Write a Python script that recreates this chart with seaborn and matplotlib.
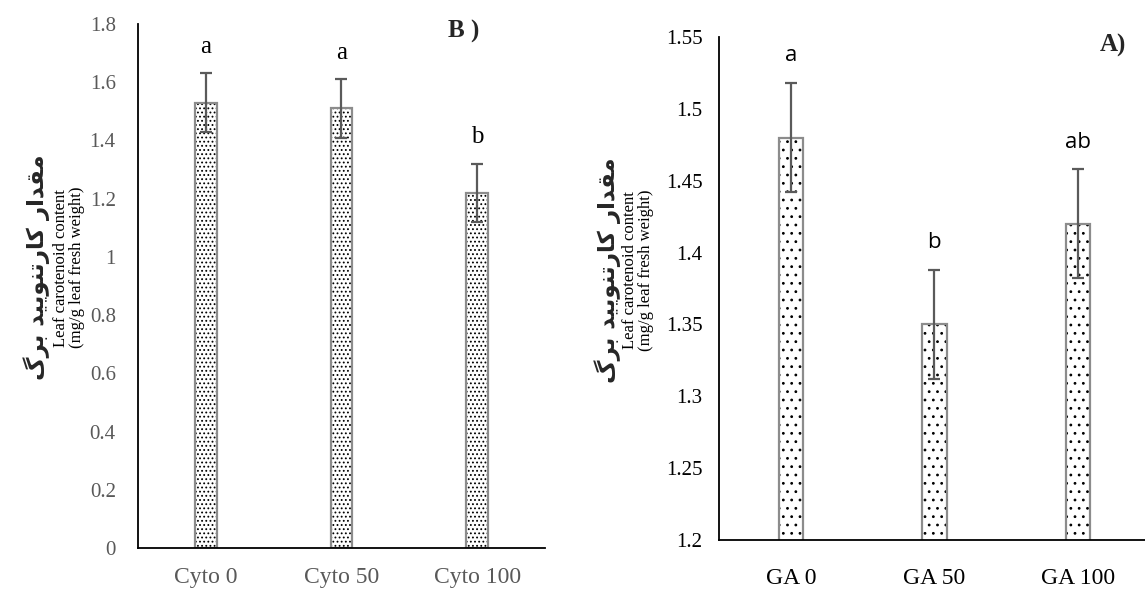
import numpy as np
import pandas as pd
import matplotlib
matplotlib.use("Agg")
import matplotlib.pyplot as plt
import seaborn as sns

# ---- data ----
cyto_labels = ["Cyto 0", "Cyto 50", "Cyto 100"]
cyto_values = [1.53, 1.51, 1.22]
cyto_err = [0.10, 0.10, 0.10]
cyto_letters = ["a", "a", "b"]

ga_labels = ["GA 0", "GA 50", "GA 100"]
ga_values = [1.48, 1.35, 1.42]
ga_err = [0.038, 0.038, 0.038]
ga_letters = ["a", "b", "ab"]

cyto_yticks = [0, 0.2, 0.4, 0.6, 0.8, 1, 1.2, 1.4, 1.6, 1.8]
cyto_ytick_labels = ["0", "0.2", "0.4", "0.6", "0.8", "1", "1.2", "1.4", "1.6", "1.8"]
ga_yticks = [1.2, 1.25, 1.3, 1.35, 1.4, 1.45, 1.5, 1.55]
ga_ytick_labels = ["1.2", "1.25", "1.3", "1.35", "1.4", "1.45", "1.5", "1.55"]

ylabel_fa = "مقدار کارتنویید برگ"
ylabel_en = "Leaf carotenoid content\n(mg/g leaf fresh weight)"

# ---- minimal Persian shaping (presentation forms, right-to-left) ----
FORMS = {
    "م": ("\uFEE1", "\uFEE2", "\uFEE3", "\uFEE4"),
    "ق": ("\uFED5", "\uFED6", "\uFED7", "\uFED8"),
    "ت": ("\uFE95", "\uFE96", "\uFE97", "\uFE98"),
    "ن": ("\uFEE5", "\uFEE6", "\uFEE7", "\uFEE8"),
    "ب": ("\uFE8F", "\uFE90", "\uFE91", "\uFE92"),
    "ک": ("\uFB8E", "\uFB8F", "\uFB90", "\uFB91"),
    "گ": ("\uFB92", "\uFB93", "\uFB94", "\uFB95"),
    "ی": ("\uFBFC", "\uFBFD", "\uFBFE", "\uFBFF"),
    "د": ("\uFEA9", "\uFEAA", "\uFEA9", "\uFEAA"),
    "ا": ("\uFE8D", "\uFE8E", "\uFE8D", "\uFE8E"),
    "ر": ("\uFEAD", "\uFEAE", "\uFEAD", "\uFEAE"),
    "و": ("\uFEED", "\uFEEE", "\uFEED", "\uFEEE"),
}
RIGHT_JOINING = set("دارو")


def shape_rtl(text):
    out = []
    for i, ch in enumerate(text):
        if ch not in FORMS:
            out.append(ch)
            continue
        prev = text[i - 1] if i > 0 else " "
        nxt = text[i + 1] if i + 1 < len(text) else " "
        jp = prev in FORMS and prev not in RIGHT_JOINING
        jn = nxt in FORMS and ch not in RIGHT_JOINING
        iso, fin, ini, med = FORMS[ch]
        if jp and jn:
            out.append(med)
        elif jp:
            out.append(fin)
        elif jn:
            out.append(ini)
        else:
            out.append(iso)
    return "".join(reversed(out))


sns.set_theme(style="white")
plt.rcParams["font.family"] = ["Liberation Serif", "DejaVu Serif"]
plt.rcParams["hatch.linewidth"] = 0.8

fig = plt.figure(figsize=(11.45, 5.92), dpi=100)
ax1 = fig.add_axes([0.1205, 0.0743, 0.3555, 0.8852])
ax2 = fig.add_axes([0.628, 0.0878, 0.376, 0.8497])

BAR_EDGE = "#8c8c8c"
ERR_COLOR = "#5a5a5a"


def draw_panel(ax, labels, values, err, letters, bar_width, hatch, letter_font,
               letter_size, letter_pad):
    df = pd.DataFrame({"treatment": labels, "value": values})
    # dotted fill
    sns.barplot(data=df, x="treatment", y="value", ax=ax, width=bar_width,
                color="white", edgecolor="black", linewidth=0, hatch=hatch,
                errorbar=None)
    # bar outline
    sns.barplot(data=df, x="treatment", y="value", ax=ax, width=bar_width,
                fill=False, edgecolor=BAR_EDGE, linewidth=1.6, errorbar=None)
    pos = np.arange(len(labels))
    ax.errorbar(pos, values, yerr=err, fmt="none", ecolor=ERR_COLOR,
                elinewidth=1.6, capsize=4.5, capthick=1.6, zorder=5)
    for i, (v, e, t) in enumerate(zip(values, err, letters)):
        ax.annotate(t, (i, v + e), xytext=(0, letter_pad), textcoords="offset points",
                    ha="center", va="bottom", fontsize=letter_size,
                    family=letter_font, color="black")
    ax.set_xlabel("")
    ax.set_ylabel("")
    ax.tick_params(axis="both", length=0)
    sns.despine(ax=ax)
    for side in ("left", "bottom"):
        ax.spines[side].set_color("black")
        ax.spines[side].set_linewidth(1.3)


# ---- left panel: cytokinin ----
draw_panel(ax1, cyto_labels, cyto_values, cyto_err, cyto_letters, 0.16, "....",
           ["Liberation Serif"], 18, 11)
ax1.set_ylim(0, 1.8)
ax1.set_xlim(-0.5, 2.5)
ax1.set_yticks(cyto_yticks)
ax1.set_yticklabels(cyto_ytick_labels, fontsize=15, color="#595959")
ax1.set_xticks(range(len(cyto_labels)))
ax1.set_xticklabels(cyto_labels, fontsize=17, color="#595959")
ax1.tick_params(axis="y", pad=16)
ax1.tick_params(axis="x", pad=14)
ax1.text(0.80, 0.985, "B )", transform=ax1.transAxes, fontsize=18,
         fontweight="bold", ha="center", va="center")

# ---- right panel: gibberellin ----
draw_panel(ax2, ga_labels, ga_values, ga_err, ga_letters, 0.17, "..",
           ["Open Sans", "DejaVu Sans"], 16, 12)
ax2.set_ylim(1.2, 1.55)
ax2.set_xlim(-0.5, 2.5)
ax2.set_yticks(ga_yticks)
ax2.set_yticklabels(ga_ytick_labels, fontsize=15, color="black")
ax2.set_xticks(range(len(ga_labels)))
ax2.set_xticklabels(ga_labels, fontsize=17, color="black")
ax2.tick_params(axis="y", pad=12)
ax2.tick_params(axis="x", pad=20)
ax2.text(0.915, 0.984, "A)", transform=ax2.transAxes, fontsize=18,
         fontweight="bold", ha="center", va="center")

# ---- y axis titles (Persian + English) ----
fa_text = shape_rtl(ylabel_fa)
for x_fa, x_en, yc in ((0.032, 0.0605, 0.548), (0.531, 0.5575, 0.544)):
    fig.text(x_fa, yc, fa_text, rotation=90, ha="center", va="center",
             fontsize=16.5, fontweight="bold", family=["DejaVu Sans"])
    fig.text(x_en, yc, ylabel_en, rotation=90, ha="center", va="center",
             fontsize=12, linespacing=1.0, color="black")

fig.savefig("out.png", dpi=100)
